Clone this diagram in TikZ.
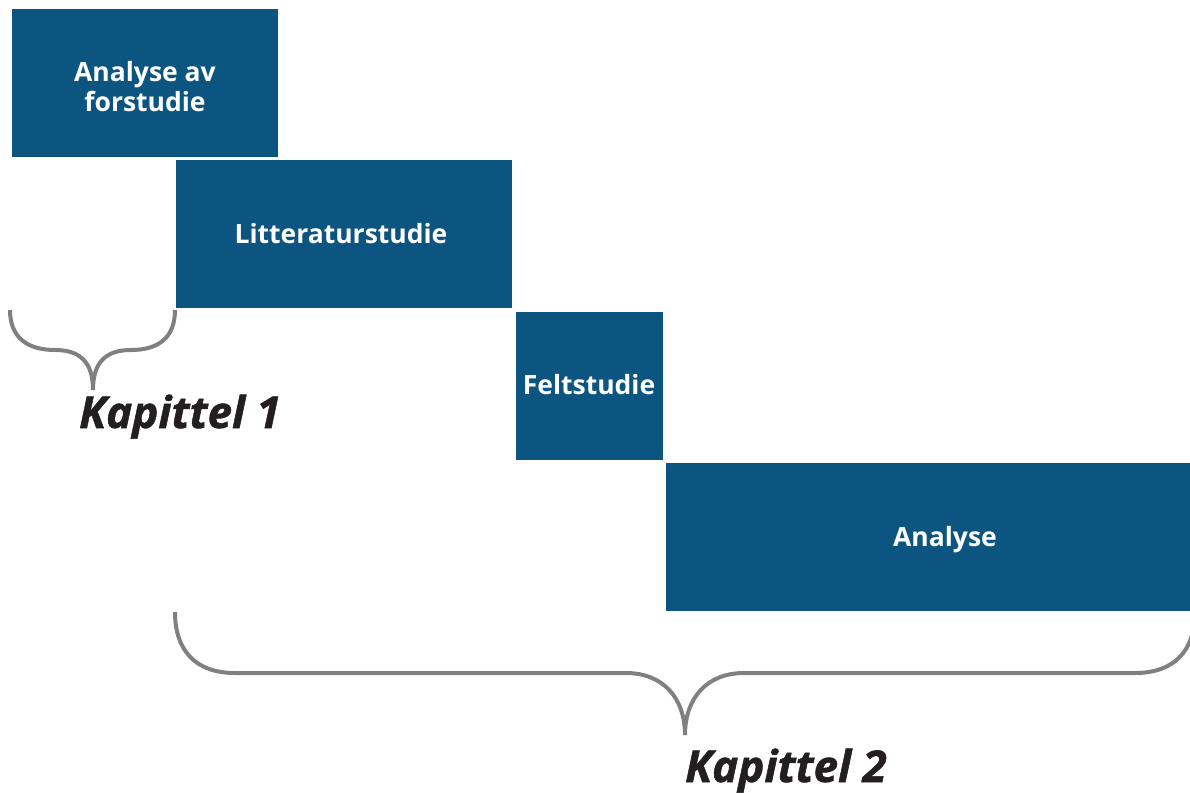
\documentclass[tikz,border=0pt]{standalone}
\usepackage{fontspec}
\setmainfont{Open Sans}
\newfontfamily\chapfont[BoldItalicFeatures={FakeBold=1.2}]{Open Sans}
\definecolor{phase}{HTML}{0C5580}
\definecolor{bracegray}{HTML}{808080}
\definecolor{labelink}{HTML}{231F20}
\tikzset{
  phasebox/.style={fill=phase, draw=none, anchor=north west, inner sep=0pt},
  phasetext/.style={text=white, font=\fontsize{26.5}{30}\selectfont\bfseries, align=center},
  bracepath/.style={draw=bracegray, line width=4pt, line cap=butt},
  chapter/.style={font=\chapfont\fontsize{44}{48}\selectfont\bfseries\itshape, text=labelink, inner sep=0pt, anchor=base}
}
\begin{document}
\begin{tikzpicture}[x=1pt, y=-1pt]
  \useasboundingbox (0,0) rectangle (1190,792);
  \clip (0,0) rectangle (1190,792);

  % phase blocks, stepping down to the right
  \node[phasebox, minimum width=266pt, minimum height=148pt] (forstudie) at (12,9) {};
  \node[phasebox, minimum width=336pt, minimum height=148pt] (litteratur) at (176,160) {};
  \node[phasebox, minimum width=147pt, minimum height=148pt] (felt) at (516,312) {};
  \node[phasebox, minimum width=560pt, minimum height=148pt] (analyse) at (666,463) {};

  \node[phasetext] (forstudieTxt) at (145,87) {Analyse av\\forstudie};
  \node[phasetext] (litteraturTxt) at (341,234) {Litteraturstudie};
  \node[phasetext] (feltTxt) at (589,385) {Feltstudie};
  \node[phasetext] (analyseTxt) at (945,540) {Analyse};

  % brace under the first block
  \coordinate (b1l) at (10,310);
  \coordinate (b1r) at (175,310);
  \coordinate (b1tip) at (93,390);
  \draw[bracepath] (b1l) .. controls (10,338) and (28,350) .. (55,350)
    .. controls (80,350) and (93,362) .. (b1tip);
  \draw[bracepath] (b1r) .. controls (175,338) and (158,350) .. (131,350)
    .. controls (106,350) and (93,362) .. (b1tip);

  % brace under the remaining blocks
  \coordinate (b2l) at (175,612);
  \coordinate (b2r) at (1195,612);
  \coordinate (b2tip) at (685,735);
  \draw[bracepath] (b2l) .. controls (175,650) and (195,673) .. (235,673)
    -- (626,673) .. controls (663,673) and (685,698) .. (b2tip);
  \draw[bracepath] (b2r) .. controls (1195,650) and (1175,673) .. (1135,673)
    -- (744,673) .. controls (707,673) and (685,698) .. (b2tip);

  \node[chapter] (kap1) at (180,428) {Kapittel 1};
  \node[chapter] (kap2) at (786,782) {Kapittel 2};
\end{tikzpicture}
\end{document}
